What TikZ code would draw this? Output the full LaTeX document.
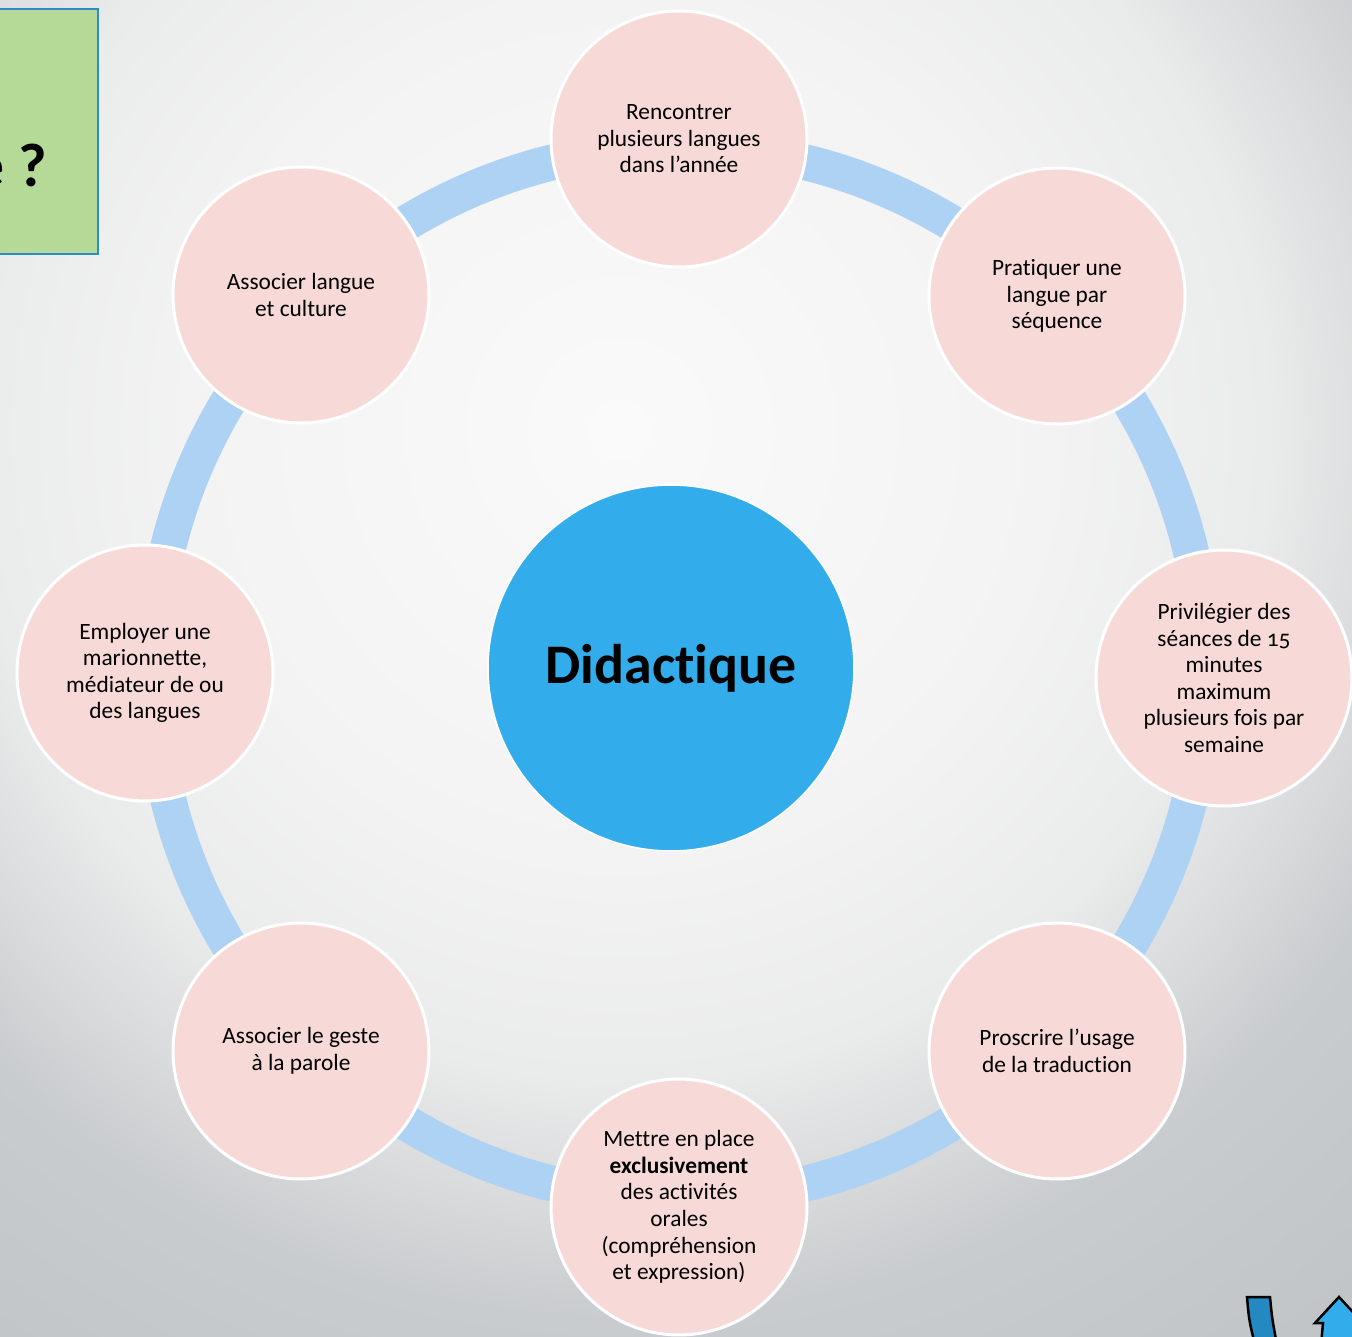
\documentclass[tikz,border=0pt]{standalone}
\usepackage{fontspec}
\setmainfont{Carlito}[Numbers=OldStyle,Ligatures=NoCommon]
\usetikzlibrary{positioning,calc}
\definecolor{bubble}{HTML}{F7DAD8}
\definecolor{hubblue}{HTML}{32ACEA}
\definecolor{ringblue}{HTML}{AED2F3}
\definecolor{boxgreen}{HTML}{B5DA97}
\definecolor{boxedge}{HTML}{2E8BC9}
\definecolor{navdark}{HTML}{2389C0}
\definecolor{bgA}{HTML}{FAFAFA}
\definecolor{bgB}{HTML}{F3F3F3}
\definecolor{bgC}{HTML}{EAEBEB}
\definecolor{bgD}{HTML}{C9CCCE}
\definecolor{bgE}{HTML}{C0C3C5}
\pgfdeclareradialshading{backdrop}{\pgfpoint{0bp}{0bp}}{color(0bp)=(bgA); color(9bp)=(bgB); color(13.5bp)=(bgC); color(18.5bp)=(bgD); color(25bp)=(bgE); color(50bp)=(bgE)}
\tikzset{idea/.style={circle,fill=bubble,draw=white,line width=0.06cm,minimum size=5.12cm,inner sep=0pt,align=center,font=\fontsize{13.3}{15.1}\selectfont},
         hub/.style={circle,fill=hubblue,draw=white,line width=0.03cm,minimum size=7.32cm,inner sep=0pt,font=\fontsize{31.8}{36}\selectfont\bfseries},
         ring/.style={draw=ringblue,line width=0.72cm},
         titlebox/.style={rectangle,fill=boxgreen,draw=boxedge,line width=0.03cm,inner sep=0pt},
         nav/.style={draw=black,line width=0.05cm,line join=miter}
}

\begin{document}
\begin{tikzpicture}[x=0.02cm,y=-0.02cm]
\useasboundingbox (0,0) rectangle (1352,1337);

\begin{scope}
\clip (0,0) rectangle (1352,1337);
\shade[shading=backdrop] (620,430) circle[radius=1200];
\end{scope}

\node[titlebox,minimum width=2.16cm,minimum height=4.9cm] (title) at (44,131.5) {};
\node[anchor=base east,inner sep=0pt,font=\fontsize{35}{40}\selectfont\bfseries] (ask) at (47,187) {e ?};

\node[hub] (hub) at (671,668) {Didactique};
\draw[ring] (679,673) circle[radius=526];

\node[idea] (rencontrer) at (679,139) {Rencontrer\\plusieurs langues\\dans l’année};
\node[idea] (pratiquer) at (1057,296) {Pratiquer une\\langue par\\séquence};
\node[idea] (seances) at (1224,678) {Privilégier des\\séances de 15\\minutes\\maximum\\plusieurs fois par\\semaine};
\node[idea] (proscrire) at (1057,1051) {Proscrire l’usage\\de la traduction};
\node[idea] (oral) at (679,1207) {Mettre en place\\\textbf{exclusivement}\\des activités\\orales\\(compréhension\\et expression)};
\node[idea] (geste) at (301,1051) {Associer le geste\\à la parole};
\node[idea] (marionnette) at (145,673) {Employer une\\marionnette,\\médiateur de ou\\des langues};
\node[idea] (culture) at (301,295) {Associer langue\\et culture};

% navigation buttons in the corner
\draw[nav,fill=navdark] (1247,1297) -- (1270,1297) .. controls (1272,1318) .. (1277,1345) -- (1255,1345) .. controls (1249,1320) .. (1247,1297) -- cycle;
\draw[nav,fill=hubblue] (1339,1297) -- (1363,1323) -- (1355,1323) -- (1356,1345) -- (1321,1345) -- (1323,1323) -- (1315,1323) -- cycle;

\end{tikzpicture}
\end{document}
